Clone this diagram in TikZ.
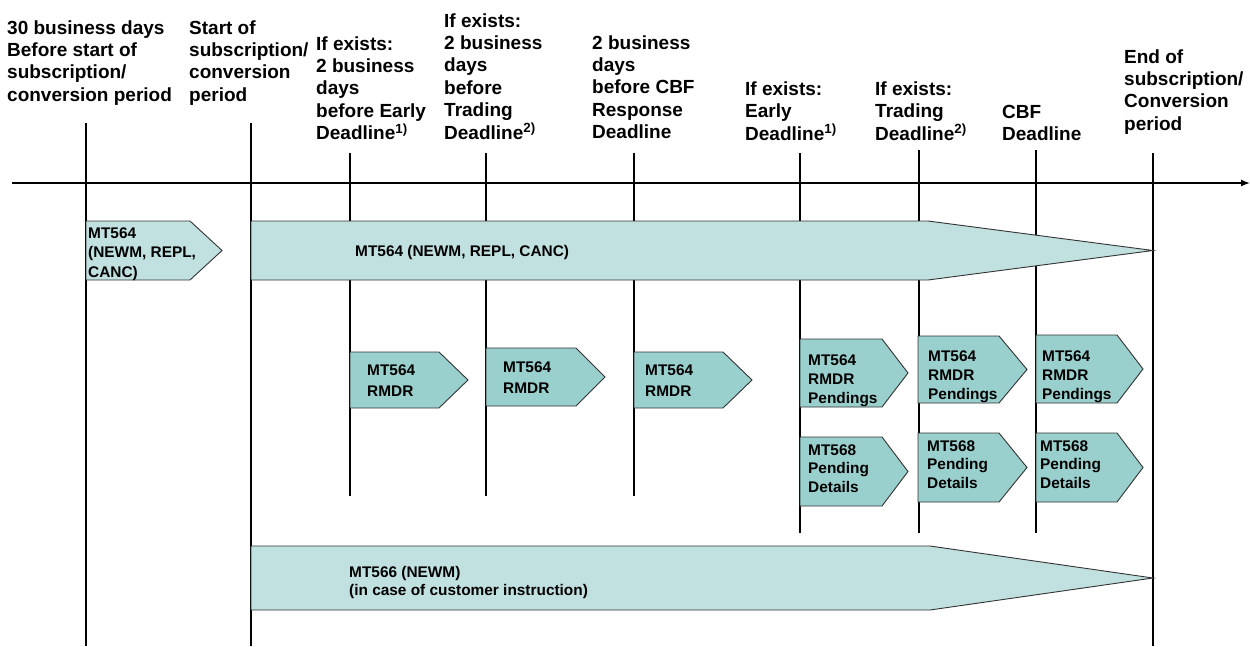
\documentclass[tikz,border=0pt]{standalone}
\usepackage{fontspec}
\setmainfont{Liberation Sans}
\usetikzlibrary{arrows.meta}
\definecolor{paleteal}{HTML}{C0E1E0}
\definecolor{midteal}{HTML}{99CFCC}
\newcommand{\stk}[1]{\begin{tabular}[t]{@{}l@{}}#1\end{tabular}}
\tikzset{
  hdr/.style={anchor=base west, inner sep=0pt, font=\fontsize{19}{22.4}\selectfont\bfseries},
  boxtxt/.style={anchor=base west, inner sep=0pt, font=\fontsize{15.4}{#1}\selectfont\bfseries},
  boxtxt/.default=19,
  tline/.style={line width=1.4pt, draw=black},
  bigarrow/.style={fill=paleteal, draw=black!80, line width=0.9pt},
  smallarrow/.style={fill=midteal, draw=black!80, line width=0.9pt},
}
\begin{document}
\begin{tikzpicture}[x=1pt,y=-1pt]
\fill[white] (0,0) rectangle (1250,646);
\useasboundingbox (0,0) rectangle (1250,646);

% time axis
\coordinate (axs) at (12,183);
\coordinate (axe) at (1250,183);
\draw[line width=1.4pt, -{Latex[length=9pt,width=7pt]}] (axs) -- (axe);

% vertical time lines
\draw[tline] (86,123) -- (86,646);
\draw[tline] (251,123) -- (251,646);
\draw[tline] (350,153) -- (350,496);
\draw[tline] (486,153) -- (486,496);
\draw[tline] (634,153) -- (634,496);
\draw[tline] (800,153) -- (800,533);
\draw[tline] (919,150) -- (919,533);
\draw[tline] (1036,150) -- (1036,533);
\draw[tline] (1153,153) -- (1153,646);

% header labels
\node[hdr] (h1) at (7,34) {\stk{30 business days\\Before start of\\subscription/\\conversion period}};
\node[hdr] (h2) at (189,34) {\stk{Start of\\subscription/\\conversion\\period}};
\node[hdr] (h3) at (316,50) {\stk{If exists:\\2 business\\days\\before Early\\Deadline\textsuperscript{1)}}};
\node[hdr] (h4) at (444,27) {\stk{If exists:\\2 business\\days\\before\\Trading\\Deadline\textsuperscript{2)}}};
\node[hdr] (h5) at (592,49) {\stk{2 business\\days\\before CBF\\Response\\Deadline}};
\node[hdr] (h6) at (745,95) {\stk{If exists:\\Early\\Deadline\textsuperscript{1)}}};
\node[hdr] (h7) at (875,95) {\stk{If exists:\\Trading\\Deadline\textsuperscript{2)}}};
\node[hdr] (h8) at (1002,118) {\stk{CBF\\Deadline}};
\node[hdr] (h9) at (1124,63) {\stk{End of\\subscription/\\Conversion\\period}};

% long arrows
\draw[bigarrow] (86,221) -- (190,221) -- (222,250.5) -- (190,280) -- (86,280) -- cycle;
\draw[bigarrow] (251,221) -- (928,221) -- (1153,250.5) -- (928,280) -- (251,280) -- cycle;
\draw[bigarrow] (251,546) -- (930,546) -- (1153,578) -- (930,610) -- (251,610) -- cycle;

\node[boxtxt=19.5] (m0) at (88,238) {\stk{MT564\\(NEWM, REPL,\\CANC)}};
\node[boxtxt] (m1) at (355,256) {MT564 (NEWM, REPL, CANC)};
\node[boxtxt=18.5] (m2) at (349,577) {\stk{MT566 (NEWM)\\(in case of customer instruction)}};

% reminder arrows
\draw[smallarrow] (350,352) -- (439,352) -- (468,380) -- (439,408) -- (350,408) -- cycle;
\draw[smallarrow] (486,348) -- (576,348) -- (605,377) -- (576,406) -- (486,406) -- cycle;
\draw[smallarrow] (634,352) -- (723,352) -- (752,380) -- (723,408) -- (634,408) -- cycle;
\node[boxtxt=21] (r1) at (367,375) {\stk{MT564\\RMDR}};
\node[boxtxt=21] (r2) at (503,372) {\stk{MT564\\RMDR}};
\node[boxtxt=21] (r3) at (645,375) {\stk{MT564\\RMDR}};

% pendings arrows
\draw[smallarrow] (800,339) -- (882,339) -- (908,373) -- (882,407) -- (800,407) -- cycle;
\draw[smallarrow] (918,336) -- (999,336) -- (1027,369.5) -- (999,403) -- (918,403) -- cycle;
\draw[smallarrow] (1036,335) -- (1117,335) -- (1143,369) -- (1117,403) -- (1036,403) -- cycle;
\node[boxtxt] (p1) at (808,365) {\stk{MT564\\RMDR\\Pendings}};
\node[boxtxt] (p2) at (928,361) {\stk{MT564\\RMDR\\Pendings}};
\node[boxtxt] (p3) at (1042,361) {\stk{MT564\\RMDR\\Pendings}};

% pending details arrows
\draw[smallarrow] (800,437) -- (882,437) -- (908,471.5) -- (882,506) -- (800,506) -- cycle;
\draw[smallarrow] (918,433) -- (999,433) -- (1027,467.5) -- (999,502) -- (918,502) -- cycle;
\draw[smallarrow] (1036,433) -- (1117,433) -- (1143,467.5) -- (1117,502) -- (1036,502) -- cycle;
\node[boxtxt=18.5] (d1) at (808,455) {\stk{MT568\\Pending\\Details}};
\node[boxtxt=18.5] (d2) at (927,451) {\stk{MT568\\Pending\\Details}};
\node[boxtxt=18.5] (d3) at (1040,451) {\stk{MT568\\Pending\\Details}};
\end{tikzpicture}
\end{document}
